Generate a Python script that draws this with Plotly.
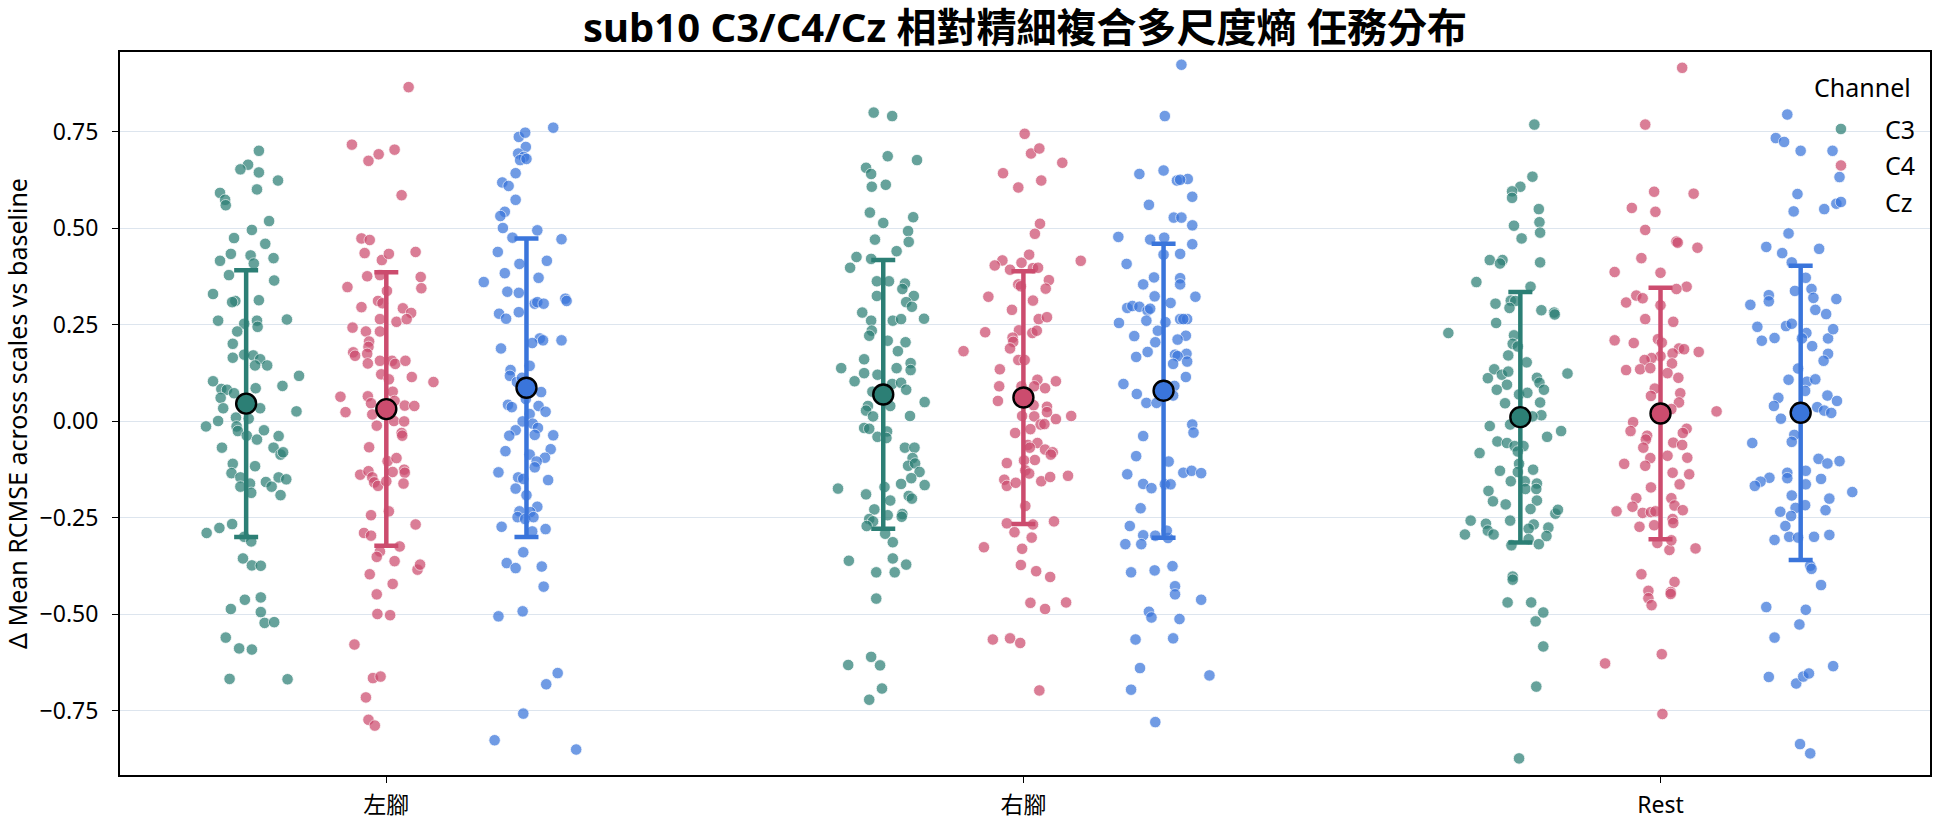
import numpy as np
import plotly.graph_objects as go

groups = ["左腳", "右腳", "Rest"]
channels = ["C3", "C4", "Cz"]
colors = {"C3": "#2C7F75", "C4": "#CC4C6E", "Cz": "#3A75DB"}

# ---- 左腳 ----
left_C3_y = [0.701,0.665,0.653,0.645,0.624,0.601,0.592,0.574,0.560,0.519,
 0.496,0.475,0.460,0.434,0.430,0.416,0.423,0.409,0.379,0.365,
 0.330,0.312,0.309,0.314,0.261,0.261,0.264,0.253,0.245,0.233,
 0.201,0.165,0.173,0.171,0.161,0.145,0.145,0.104,0.084,0.082,
 0.086,0.092,0.118,0.061,0.073,0.034,0.034,0.026,-0.013,0.001,
 0.010,-0.013,0.007,-0.023,-0.025,-0.037,-0.047,-0.038,-0.068,-0.068,
 -0.086,-0.080,-0.110,-0.116,-0.134,-0.145,-0.161,-0.169,-0.185,-0.157,
 -0.169,-0.145,-0.150,-0.191,-0.289,-0.276,-0.266,-0.299,-0.311,-0.355,
 -0.373,-0.374,-0.462,-0.456,-0.486,-0.494,-0.522,-0.520,-0.560,-0.588,
 -0.591,-0.667,-0.668]
left_C3_jit = [0.020,0.003,-0.009,0.020,0.050,0.017,-0.041,-0.033,-0.032,0.036,
 0.009,-0.019,0.030,-0.024,0.007,-0.041,0.043,0.012,-0.027,0.044,
 -0.052,-0.017,-0.022,0.020,-0.044,0.017,0.064,-0.003,0.018,-0.014,
 -0.021,-0.021,-0.003,0.011,0.022,0.014,0.033,-0.052,-0.039,-0.030,
 0.015,0.057,0.083,-0.040,-0.019,-0.036,0.022,0.079,-0.063,-0.044,
 -0.016,-0.015,0.004,0.028,-0.013,0.001,0.017,0.051,-0.038,0.043,
 0.054,0.058,-0.021,0.014,-0.023,-0.009,0.006,-0.009,0.008,0.031,
 0.040,0.051,0.063,0.054,-0.062,-0.042,-0.022,-0.003,0.008,-0.005,
 0.009,0.023,-0.002,0.023,-0.024,0.023,0.029,0.044,-0.032,-0.011,
 0.009,-0.026,0.065]

left_C4_y = [0.866,0.717,0.675,0.692,0.704,0.586,0.474,0.470,0.436,0.439,
 0.418,0.434,0.376,0.379,0.374,0.348,0.345,0.338,0.312,0.306,
 0.296,0.293,0.281,0.258,0.265,0.265,0.243,0.233,0.233,0.207,
 0.193,0.179,0.170,0.175,0.150,0.157,0.157,0.149,0.157,0.122,
 0.115,0.109,0.102,0.064,0.065,0.047,0.077,0.053,0.041,0.040,
 0.024,0.018,-0.011,0.001,0.000,-0.030,-0.037,-0.067,-0.103,-0.095,
 -0.138,-0.129,-0.145,-0.158,-0.167,-0.131,-0.125,-0.133,-0.161,-0.155,
 -0.243,-0.233,-0.267,-0.289,-0.296,-0.337,-0.351,-0.324,-0.362,-0.384,
 -0.371,-0.396,-0.421,-0.448,-0.499,-0.502,-0.578,-0.665,-0.661,-0.715,
 -0.773,-0.788]
left_C4_jit = [0.035,-0.054,-0.028,-0.012,0.013,0.024,-0.039,-0.026,-0.034,0.046,
 -0.007,0.004,-0.030,-0.010,0.054,-0.061,0.055,0.001,-0.013,-0.006,
 -0.039,0.026,0.039,0.016,0.032,-0.010,-0.053,-0.032,-0.010,-0.027,
 -0.028,-0.052,-0.049,-0.030,-0.029,-0.010,0.009,0.014,0.030,-0.008,
 0.040,0.004,0.074,-0.072,-0.029,-0.024,0.010,0.013,0.029,0.044,
 -0.064,-0.022,-0.015,0.012,0.028,0.024,0.025,-0.027,0.002,0.016,
 -0.041,-0.028,-0.022,-0.019,-0.013,0.010,0.028,0.029,0.027,0.000,
 -0.024,0.004,0.046,-0.035,-0.024,-0.010,-0.015,0.021,0.013,0.049,
 0.053,-0.026,0.010,-0.015,-0.014,0.006,-0.050,-0.021,-0.009,-0.032,
 -0.028,-0.018]

left_Cz_y = [0.761,0.737,0.748,0.711,0.694,0.685,0.677,0.680,0.643,0.619,
 0.610,0.574,0.543,0.532,0.501,0.495,0.476,0.472,0.439,0.416,
 0.408,0.384,0.372,0.361,0.336,0.333,0.318,0.312,0.305,0.309,
 0.305,0.279,0.266,0.283,0.215,0.210,0.203,0.210,0.189,0.144,
 0.133,0.118,0.102,0.113,0.076,0.043,0.037,0.058,0.040,0.025,
 0.019,0.000,-0.006,-0.017,-0.023,-0.037,-0.035,-0.036,-0.077,-0.072,
 -0.094,-0.086,-0.104,-0.119,-0.132,-0.152,-0.145,-0.149,-0.174,-0.191,
 -0.221,-0.233,-0.235,-0.248,-0.253,-0.248,-0.273,-0.279,-0.285,-0.339,
 -0.367,-0.380,-0.376,-0.428,-0.505,-0.492,-0.652,-0.681,-0.757,-0.826,
 -0.850]
left_Cz_jit = [0.042,-0.012,-0.002,-0.001,-0.013,-0.004,-0.010,0.000,-0.017,-0.038,
 -0.028,-0.017,-0.034,-0.041,-0.037,0.017,-0.022,0.055,-0.045,0.032,
 -0.011,-0.034,0.019,-0.067,-0.030,-0.012,0.061,0.063,0.013,0.017,
 0.027,-0.043,-0.032,-0.012,0.021,0.026,0.009,0.055,-0.040,0.005,
 -0.025,-0.026,-0.015,-0.007,0.023,-0.029,-0.023,-0.001,0.019,0.030,
 0.005,-0.006,0.010,0.018,-0.017,-0.027,0.013,0.042,-0.033,0.038,
 0.029,0.005,0.016,0.013,-0.044,0.034,-0.013,-0.005,-0.017,0.000,
 0.017,-0.011,0.006,-0.014,-0.002,0.011,-0.039,0.030,0.009,-0.005,
 -0.031,-0.017,0.024,0.027,-0.044,-0.006,0.049,0.031,-0.005,-0.050,
 0.078]

# ---- 右腳 ----
right_C3_y = [0.800,0.791,0.687,0.677,0.657,0.641,0.608,0.613,0.541,0.514,
 0.529,0.493,0.465,0.471,0.441,0.426,0.421,0.398,0.363,0.363,
 0.357,0.343,0.325,0.325,0.309,0.297,0.282,0.261,0.261,0.265,
 0.266,0.235,0.222,0.209,0.205,0.182,0.161,0.151,0.133,0.138,
 0.125,0.138,0.121,0.104,0.097,0.100,0.082,0.077,0.050,0.040,
 0.040,0.028,0.013,0.014,-0.017,-0.019,-0.026,-0.040,-0.043,-0.068,
 -0.068,-0.095,-0.115,-0.109,-0.131,-0.147,-0.162,-0.165,-0.174,-0.170,
 -0.189,-0.193,-0.200,-0.205,-0.228,-0.240,-0.243,-0.247,-0.253,-0.259,
 -0.271,-0.291,-0.313,-0.361,-0.355,-0.371,-0.391,-0.391,-0.459,-0.610,
 -0.631,-0.632,-0.692,-0.721]
right_C3_jit = [-0.015,0.014,0.007,0.053,-0.027,-0.019,-0.018,0.004,-0.021,0.000,
 0.047,0.039,0.040,-0.013,0.021,-0.042,-0.019,-0.052,-0.010,0.009,
 0.034,0.030,0.048,-0.010,0.036,0.045,-0.033,-0.019,0.015,0.028,
 0.064,-0.018,-0.022,0.007,0.035,0.023,-0.030,0.043,0.043,-0.066,
 -0.030,0.021,-0.009,-0.045,0.014,0.028,0.036,-0.017,0.065,-0.024,
 0.011,-0.027,-0.016,0.042,-0.030,-0.022,0.006,-0.009,0.005,0.034,
 0.049,0.046,0.039,0.050,0.057,0.044,0.028,0.065,-0.071,0.002,
 -0.027,0.040,0.045,0.011,-0.014,0.030,0.007,0.029,-0.022,-0.016,
 -0.026,0.003,0.015,-0.054,0.015,0.036,-0.011,0.018,-0.011,-0.019,
 -0.055,-0.005,-0.002,-0.022]

right_C4_y = [0.745,0.694,0.707,0.670,0.643,0.624,0.606,0.512,0.486,0.432,
 0.417,0.404,0.411,0.393,0.397,0.398,0.416,0.355,0.350,0.366,
 0.344,0.323,0.313,0.289,0.265,0.270,0.231,0.236,0.229,0.235,
 0.217,0.206,0.189,0.182,0.159,0.159,0.135,0.108,0.104,0.091,
 0.091,0.086,0.091,0.053,0.042,0.038,0.024,0.014,0.014,0.013,
 0.006,-0.008,-0.007,-0.020,-0.030,-0.061,-0.056,-0.068,-0.073,-0.080,
 -0.086,-0.100,-0.101,-0.108,-0.127,-0.135,-0.151,-0.167,-0.159,-0.155,
 -0.144,-0.141,-0.219,-0.264,-0.267,-0.259,-0.287,-0.301,-0.326,-0.330,
 -0.372,-0.388,-0.403,-0.470,-0.486,-0.469,-0.565,-0.562,-0.574,-0.697]
right_C4_jit = [0.002,0.012,0.025,0.061,-0.032,0.028,-0.008,0.026,0.018,0.009,
 -0.033,-0.045,-0.003,-0.021,0.015,0.023,0.090,-0.008,-0.004,0.040,
 0.035,-0.055,0.015,-0.018,0.024,0.037,-0.060,-0.007,0.014,0.021,
 -0.017,-0.016,-0.021,-0.094,-0.008,0.002,-0.037,0.022,0.051,-0.038,
 0.017,0.034,-0.003,-0.040,0.016,0.037,0.037,0.075,-0.002,0.017,
 0.051,0.027,0.033,0.011,-0.013,0.007,0.022,0.010,0.034,0.046,
 0.043,0.018,0.001,-0.026,0.003,0.009,-0.030,-0.026,-0.012,0.028,
 0.042,0.070,0.003,-0.026,0.015,0.048,-0.014,0.013,-0.062,-0.002,
 -0.004,0.020,0.042,0.011,0.034,0.067,-0.048,-0.021,-0.005,0.025]

right_Cz_y = [0.924,0.791,0.641,0.650,0.624,0.628,0.626,0.582,0.561,0.528,
 0.528,0.508,0.478,0.471,0.476,0.459,0.432,0.434,0.408,0.373,
 0.371,0.355,0.355,0.323,0.324,0.307,0.294,0.299,0.297,0.287,
 0.292,0.261,0.255,0.257,0.265,0.265,0.265,0.235,0.221,0.222,
 0.212,0.205,0.180,0.167,0.173,0.175,0.169,0.155,0.149,0.115,
 0.097,0.092,0.071,0.067,0.048,0.048,-0.008,-0.029,-0.038,-0.090,
 -0.104,-0.137,-0.133,-0.128,-0.134,-0.162,-0.173,-0.163,-0.163,-0.225,
 -0.271,-0.295,-0.296,-0.302,-0.283,-0.318,-0.318,-0.391,-0.386,-0.375,
 -0.427,-0.448,-0.462,-0.493,-0.508,-0.512,-0.565,-0.562,-0.639,-0.695,
 -0.658,-0.779]
right_Cz_jit = [0.028,0.002,-0.038,0.000,0.021,0.038,0.026,0.045,-0.023,0.016,
 0.028,0.045,-0.071,-0.021,0.001,0.045,0.000,0.026,-0.058,-0.015,
 0.026,0.026,-0.032,0.050,-0.014,0.011,-0.057,-0.049,-0.038,-0.025,
 -0.021,-0.027,-0.070,0.003,0.026,0.037,0.031,-0.009,-0.046,0.035,
 0.022,-0.013,-0.025,-0.043,0.018,0.036,0.022,0.037,0.015,0.035,
 -0.063,0.017,-0.042,0.015,-0.027,-0.011,0.045,0.047,-0.032,-0.043,
 0.008,-0.057,0.031,0.044,0.059,-0.032,-0.019,0.002,0.011,-0.036,
 -0.053,-0.032,-0.013,0.007,0.005,-0.060,-0.035,-0.051,-0.014,0.014,
 0.018,0.018,0.059,-0.023,-0.019,0.025,-0.044,0.015,-0.037,-0.051,
 0.072,-0.013]

# ---- Rest ----
rest_C3_y = [0.769,0.634,0.608,0.596,0.579,0.550,0.516,0.489,0.507,0.474,
 0.418,0.418,0.409,0.412,0.361,0.349,0.313,0.312,0.305,0.294,
 0.288,0.282,0.277,0.255,0.229,0.223,0.201,0.194,0.171,0.153,
 0.124,0.135,0.112,0.121,0.129,0.095,0.082,0.113,0.100,0.082,
 0.070,0.074,0.049,0.047,0.016,0.013,-0.012,-0.008,-0.040,-0.025,
 -0.052,-0.056,-0.064,-0.064,-0.078,-0.082,-0.110,-0.128,-0.131,-0.125,
 -0.155,-0.155,-0.161,-0.175,-0.175,-0.180,-0.207,-0.215,-0.205,-0.227,
 -0.239,-0.229,-0.257,-0.293,-0.257,-0.265,-0.283,-0.293,-0.267,-0.278,
 -0.275,-0.305,-0.297,-0.318,-0.321,-0.402,-0.410,-0.469,-0.469,-0.495,
 -0.518,-0.583,-0.687,-0.873]
rest_C3_jit = [0.022,0.019,0.000,-0.013,-0.013,0.029,0.030,0.031,-0.010,0.002,
 -0.048,-0.028,-0.032,0.031,-0.069,0.016,-0.015,-0.008,-0.039,-0.017,
 0.033,0.053,0.054,-0.038,-0.113,-0.010,-0.012,-0.004,-0.019,0.010,
 0.074,-0.041,-0.051,-0.029,-0.019,-0.021,-0.037,0.026,0.030,0.037,
 -0.002,0.011,0.031,-0.024,0.033,0.019,-0.048,-0.016,0.042,0.064,
 -0.036,-0.021,-0.009,0.005,-0.004,-0.064,-0.002,-0.032,-0.004,0.020,
 -0.015,0.007,0.026,0.008,0.025,-0.050,-0.043,-0.023,0.026,0.016,
 0.055,0.059,-0.078,-0.087,-0.016,-0.054,-0.051,-0.042,0.021,0.013,
 0.044,0.013,0.041,0.029,-0.014,-0.012,-0.012,-0.020,0.017,0.036,
 0.024,0.036,0.025,-0.002]

rest_C4_y = [0.916,0.769,0.595,0.590,0.553,0.543,0.496,0.466,0.463,0.450,
 0.423,0.387,0.385,0.349,0.343,0.326,0.319,0.308,0.301,0.265,
 0.258,0.210,0.203,0.213,0.204,0.189,0.187,0.180,0.176,0.169,
 0.164,0.159,0.150,0.133,0.135,0.138,0.125,0.113,0.085,0.073,
 0.066,0.049,0.032,0.026,-0.002,-0.025,-0.019,-0.030,-0.037,-0.047,
 -0.055,-0.061,-0.068,-0.089,-0.095,-0.094,-0.110,-0.115,-0.133,-0.137,
 -0.163,-0.171,-0.199,-0.199,-0.221,-0.218,-0.233,-0.237,-0.235,-0.233,
 -0.230,-0.253,-0.263,-0.273,-0.269,-0.315,-0.333,-0.308,-0.329,-0.396,
 -0.416,-0.439,-0.458,-0.476,-0.442,-0.447,-0.603,-0.627,-0.758]
rest_C4_jit = [0.034,-0.024,-0.010,0.052,-0.045,-0.008,-0.024,0.025,0.027,0.058,
 -0.030,-0.072,0.000,0.041,0.025,-0.038,-0.028,-0.054,0.000,-0.024,
 0.020,-0.072,-0.042,-0.004,0.002,0.029,0.037,0.060,0.019,0.000,
 -0.014,-0.025,0.018,-0.054,-0.032,-0.016,0.011,0.028,-0.009,0.031,
 -0.015,0.029,0.017,0.088,-0.043,-0.047,0.041,0.035,-0.021,-0.023,
 0.020,0.034,-0.027,0.011,-0.016,0.042,-0.057,-0.024,0.019,0.045,
 0.030,-0.015,-0.038,0.017,-0.044,0.022,-0.069,-0.028,-0.015,-0.008,
 0.035,0.019,0.020,-0.033,-0.010,-0.005,0.014,0.017,0.055,-0.030,
 0.022,-0.019,-0.019,-0.014,0.016,0.016,0.002,-0.087,0.003]

rest_Cz_y = [0.795,0.734,0.724,0.701,0.701,0.633,0.589,0.544,0.550,0.564,
 0.487,0.452,0.436,0.447,0.412,0.338,0.372,0.343,0.320,0.317,
 0.327,0.311,0.302,0.289,0.278,0.245,0.209,0.216,0.247,0.253,
 0.229,0.215,0.195,0.215,0.239,0.175,0.157,0.137,0.108,0.103,
 0.109,0.079,0.061,0.040,0.067,0.053,0.037,0.028,0.022,0.007,
 -0.035,-0.053,-0.056,-0.097,-0.109,-0.103,-0.146,-0.156,-0.167,-0.133,
 -0.147,-0.128,-0.163,-0.149,-0.183,-0.192,-0.200,-0.217,-0.230,-0.224,
 -0.234,-0.245,-0.271,-0.307,-0.299,-0.301,-0.299,-0.294,-0.374,-0.382,
 -0.424,-0.481,-0.488,-0.526,-0.560,-0.662,-0.679,-0.661,-0.653,-0.634,
 -0.836,-0.860]
rest_Cz_jit = [-0.021,-0.039,-0.026,0.000,0.050,0.061,-0.005,-0.011,0.037,0.056,
 -0.019,-0.054,-0.029,0.029,-0.014,-0.009,0.008,0.017,0.020,0.056,
 -0.050,-0.050,-0.079,0.023,0.040,-0.068,-0.061,-0.041,-0.023,-0.014,
 0.009,0.002,0.018,0.043,0.051,0.043,0.036,-0.004,-0.019,0.010,
 0.023,0.007,-0.035,-0.042,0.042,0.057,0.026,0.037,0.048,-0.031,
 -0.010,-0.014,-0.076,0.028,0.042,0.061,-0.049,-0.063,-0.072,-0.021,
 -0.021,0.008,0.008,0.032,0.081,-0.014,0.045,0.007,0.039,-0.008,
 -0.032,-0.015,-0.024,-0.041,-0.018,-0.004,0.021,0.045,0.015,0.017,
 0.032,-0.054,0.008,-0.002,-0.041,-0.050,-0.007,0.004,0.013,0.051,
 -0.001,0.015]

values = {
    ("左腳", "C3"): (left_C3_y, left_C3_jit), ("左腳", "C4"): (left_C4_y, left_C4_jit), ("左腳", "Cz"): (left_Cz_y, left_Cz_jit),
    ("右腳", "C3"): (right_C3_y, right_C3_jit), ("右腳", "C4"): (right_C4_y, right_C4_jit), ("右腳", "Cz"): (right_Cz_y, right_Cz_jit),
    ("Rest", "C3"): (rest_C3_y, rest_C3_jit), ("Rest", "C4"): (rest_C4_y, rest_C4_jit), ("Rest", "Cz"): (rest_Cz_y, rest_Cz_jit),
}

offsets = {"C3": -0.22, "C4": 0.0, "Cz": 0.22}
FONT = "Noto Sans, Noto Sans CJK TC, sans-serif"

fig = go.Figure()
mean_traces = []
for ch in channels:
    xs, ys = [], []
    mx, my, msd = [], [], []
    for gi, g in enumerate(groups):
        yv, jv = values[(g, ch)]
        n = min(len(yv), len(jv))
        yv = np.array(yv[:n]); jv = np.array(jv[:n])
        xs.extend(gi + offsets[ch] + jv)
        ys.extend(yv)
        mx.append(gi + offsets[ch])
        my.append(float(np.mean(yv)))
        msd.append(float(np.std(yv, ddof=1)))
    fig.add_trace(go.Scatter(
        x=xs, y=ys, mode="markers", name=ch, legendgroup=ch,
        marker=dict(color=colors[ch], size=11.5, opacity=0.72,
                    line=dict(color="white", width=0.8)),
    ))
    mean_traces.append(go.Scatter(
        x=mx, y=my, mode="markers", name=ch + " mean", legendgroup=ch, showlegend=False,
        marker=dict(color=colors[ch], size=20, line=dict(color="black", width=2.4)),
        error_y=dict(type="data", array=msd, visible=True, color=colors[ch],
                     thickness=4.5, width=12),
    ))
for t in mean_traces:
    fig.add_trace(t)

fig.update_layout(
    width=1944, height=827,
    margin=dict(l=120, r=14, t=52, b=52, autoexpand=False),
    paper_bgcolor="white", plot_bgcolor="white",
    font=dict(family=FONT, size=24, color="black"),
    title=dict(text="<b>sub10 C3/C4/Cz 相對精細複合多尺度熵 任務分布</b>",
               x=0.5, xref="paper", xanchor="center",
               y=1 - 28 / 827, yref="container", yanchor="middle",
               font=dict(family=FONT, size=40, color="black")),
    legend=dict(x=0.995, xanchor="right", y=0.925, yanchor="top",
                bgcolor="rgba(0,0,0,0)", itemwidth=78, tracegroupgap=1,
                font=dict(family=FONT, size=25, color="black")),
    showlegend=True,
    annotations=[dict(text="Channel", x=0.9905, y=0.951, xref="paper", yref="paper",
                      xanchor="right", yanchor="middle", showarrow=False,
                      font=dict(family=FONT, size=25, color="black"))],
)
fig.update_xaxes(
    tickmode="array", tickvals=[0, 1, 2], ticktext=groups,
    range=[-0.418, 2.423], showgrid=False, zeroline=False, automargin=False,
    showline=True, linecolor="black", linewidth=2, mirror=True,
    ticks="outside", ticklen=6, tickcolor="black", tickfont=dict(size=23),
    ticklabelstandoff=2,
)
fig.update_yaxes(
    range=[-0.916, 0.957], tickvals=[-0.75, -0.5, -0.25, 0, 0.25, 0.5, 0.75],
    tickformat=".2f", showgrid=True, gridcolor="#dde5ee", gridwidth=1,
    zeroline=False, showline=True, linecolor="black", linewidth=2, mirror=True,
    automargin=False,
    ticks="outside", ticklen=6, tickcolor="black", tickfont=dict(size=23),
    ticklabelstandoff=9,
    title=dict(text="Δ Mean RCMSE across scales vs baseline", font=dict(size=25), standoff=6),
)

fig.write_html("out.html")
